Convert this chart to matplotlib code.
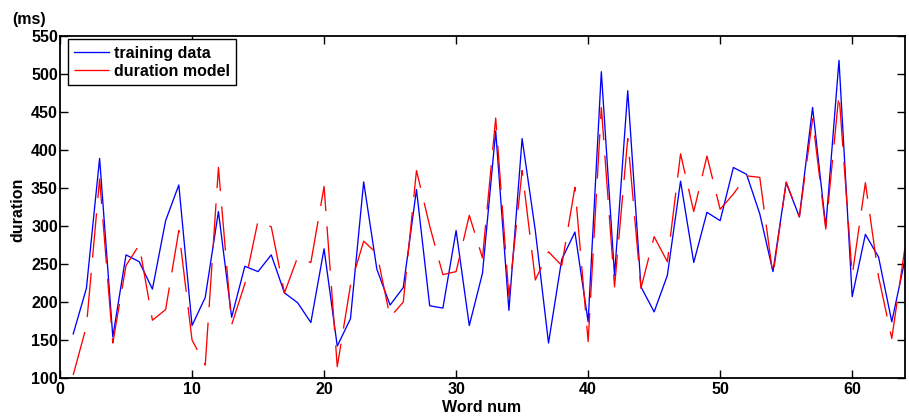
import matplotlib
matplotlib.use("Agg")
import matplotlib.pyplot as plt
import numpy as np

plt.rcParams['font.family'] = ['Liberation Sans', 'DejaVu Sans']
plt.rcParams['lines.scale_dashes'] = False

word_num = list(range(1, 65))

training_data = [158, 218, 389, 154, 262, 253, 217, 307, 354, 169,
                 206, 319, 180, 247, 240, 262, 212, 199, 173, 270,
                 142, 178, 358, 243, 196, 219, 348, 195, 192, 294,
                 169, 238, 425, 189, 415, 294, 146, 256, 292, 174,
                 503, 235, 478, 220, 187, 235, 359, 252, 318, 307,
                 377, 368, 316, 240, 357, 312, 456, 299, 518, 207,
                 289, 259, 174, 256]

duration_model = [104, 168, 362, 146, 248, 275, 176, 190, 294, 150,
                  117, 377, 170, 224, 307, 299, 212, 259, 252, 352,
                  115, 222, 280, 264, 180, 200, 373, 300, 236, 240,
                  314, 258, 442, 207, 373, 229, 266, 248, 351, 148,
                  456, 220, 415, 218, 286, 253, 395, 319, 392, 322,
                  342, 366, 364, 235, 358, 312, 441, 296, 474, 235,
                  357, 233, 152, 272]

x_ticks = [0, 10, 20, 30, 40, 50, 60]
y_ticks = [100, 150, 200, 250, 300, 350, 400, 450, 500, 550]

W, H = 909, 417
fig = plt.figure(figsize=(W / 100, H / 100), dpi=100)
ax = fig.add_axes([60 / W, 1 - 378 / H, 845 / W, 342 / H])

ax.plot(word_num, training_data, color='#0000ff', lw=0.95, label='training data')
ax.plot(word_num, duration_model, color='#ff0000', lw=0.95,
        linestyle=(0, (32, 11)), label='duration model')

ax.set_xlim(0, 64)
ax.set_ylim(100, 550)
ax.set_xticks(x_ticks)
ax.set_yticks(y_ticks)

for s in ax.spines.values():
    s.set_linewidth(1.3)
    s.set_color('black')

ax.tick_params(axis='both', which='major', direction='in', length=6, width=1.0,
               top=True, right=True, labelsize=11.5, colors='black')
ax.tick_params(axis='y', pad=1.5)
ax.tick_params(axis='x', pad=3)
for lab in ax.get_xticklabels() + ax.get_yticklabels():
    lab.set_fontweight('bold')

leg = ax.legend(loc='upper left', bbox_to_anchor=(0.009, 0.99), borderaxespad=0,
                fancybox=False, shadow=False, framealpha=1, edgecolor='black',
                prop={'weight': 'bold', 'size': 11.5}, handlelength=2.2,
                handletextpad=0.3, borderpad=0.4, labelspacing=0.2)
leg.get_frame().set_linewidth(1.0)
for t in leg.get_texts():
    t.set_color('black')

fig.text(12 / W, 1 - 12 / H, '(ms)', ha='left', va='top', fontsize=11.5, fontweight='bold')
fig.text(482 / W, 1 - 407 / H, 'Word num', ha='center', va='center', fontsize=11.5, fontweight='bold')
fig.text(18 / W, 1 - 210 / H, 'duration', ha='center', va='center', rotation=90,
         fontsize=11.5, fontweight='bold')

fig.savefig('out.png', dpi=100, facecolor='white')
